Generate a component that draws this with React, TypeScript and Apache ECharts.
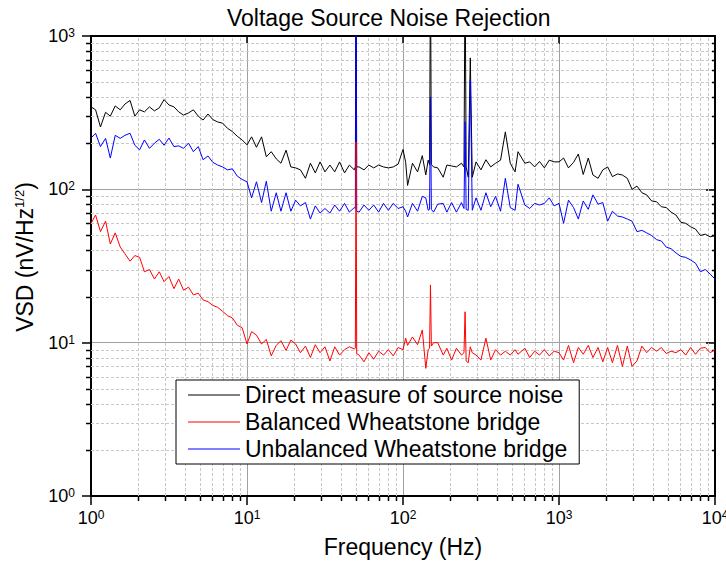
import React, { useEffect, useRef } from "react";
import * as echarts from "echarts";

const FONT = "'Liberation Sans', Arial, sans-serif";

// Frequencies (Hz)
const freq = [
  1, 1.07, 1.15, 1.24, 1.33, 1.43, 1.54, 1.65, 1.78, 1.91, 2.05, 2.2, 2.37, 2.55, 2.74, 2.94,
  3.16, 3.4, 3.65, 3.92, 4.22, 4.53, 4.87, 5.23, 5.62, 6.04, 6.49, 6.98, 7.5, 8.06, 8.66, 9.31,
  10, 10.7, 11.5, 12.4, 13.3, 14.3, 15.4, 16.5, 17.8, 19.1, 20.5, 22, 23.7, 25.5, 27.4, 29.4,
  31.6, 34, 36.5, 39.2, 42.2, 45.3, 48.7, 49.5, 50, 50.5, 52.3, 56.2, 60.4, 64.9, 69.8, 75,
  80.6, 86.6, 93.1,
  100, 104, 107, 115, 124, 133, 140, 145, 148, 150, 152, 157, 167, 181, 191, 205, 220, 237,
  246, 250, 254, 262, 270, 278, 294, 316, 340, 365, 392, 422, 453, 487, 523, 546, 604, 649,
  698, 750, 806, 866, 931,
  1000, 1070, 1150, 1240, 1330, 1430, 1540, 1650, 1780, 1910, 2050, 2200, 2370, 2550, 2740,
  2940, 3160, 3400, 3650, 3920, 4220, 4530, 4870, 5230, 5620, 6040, 6490, 6980, 7500, 8060,
  8660, 9310, 10000,
];

// Direct measure of source noise (nV/Hz^1/2)
const directNoise = [
  345, 330, 255, 318, 300, 350, 330, 360, 380, 300, 330, 320, 345, 325, 340, 385,
  355, 345, 320, 305, 315, 330, 300, 283, 310, 285, 275, 270, 250, 238, 222, 210,
  195, 220, 188, 220, 163, 176, 158, 148, 180, 140, 138, 134, 118, 148, 128, 151,
  130, 144, 130, 151, 128, 144, 134, 140, 3000, 140, 140, 134, 144, 138, 144, 140,
  138, 140, 146,
  182, 150, 106, 148, 130, 166, 124, 155, 145, 3000, 145, 140, 138, 120, 144, 142, 140, 148,
  140, 3000, 140, 120, 720, 120, 151, 134, 156, 140, 148, 155, 237, 148, 130, 176, 148, 151,
  140, 152, 138, 155, 151,
  151, 160, 138, 150, 170, 125, 160, 124, 118, 134, 140, 121, 126, 124, 118,
  100, 105, 95, 92, 84, 83, 77, 76, 71, 68, 61, 60, 57, 55, 50,
  51, 49, 50,
];

// Balanced Wheatstone bridge
const balancedBridge = [
  60, 68, 53, 62, 44, 52, 42, 38, 34, 37, 36, 29, 30, 26, 29, 25,
  27, 22.5, 26, 22, 23, 20.5, 21, 19, 18.5, 17.5, 17, 16, 15, 14.5, 13, 12.5,
  9.8, 11.8, 11.2, 9.8, 10.5, 8.2, 9.6, 10.3, 8.9, 10.4, 9.8, 8.6, 9.5, 8.0, 9.7, 8.6,
  9.4, 7.6, 9.4, 8.3, 9.0, 9.4, 9.1, 9.2, 204, 8.5, 8.3, 7.5, 8.6, 7.8, 8.8, 8.3,
  9.0, 8.2, 9.3,
  9.0, 10.7, 9.6, 10.9, 9.7, 12.1, 6.8, 9.0, 9.2, 23.8, 9.5, 10, 10, 8.3, 9.2, 7.7, 9.2, 8.3,
  8.6, 15.9, 7.6, 7.4, 9.4, 8.6, 8.3, 7.7, 10.7, 7.7, 9.0, 8.3, 8.8, 8.3, 9.0, 8.4, 9.2, 8.0,
  8.8, 8.3, 9.0, 8.2, 8.8,
  8.6, 7.7, 9.6, 7.4, 9.3, 8.4, 9.6, 8.0, 9.3, 7.5, 9.3, 7.4, 9.6, 7.0, 9.5,
  7.0, 7.6, 9.5, 8.6, 9.3, 8.8, 9.3, 8.5, 8.8, 8.6, 9.0, 8.3, 9.3, 8.4, 9.2,
  9.3, 8.6, 9.0,
];

// Unbalanced Wheatstone bridge
const unbalancedBridge = [
  216, 232, 190, 215, 160, 225, 215, 225, 232, 194, 181, 210, 185, 200, 212, 194,
  216, 190, 192, 185, 200, 176, 190, 156, 165, 150, 144, 140, 134, 136, 122, 116,
  112, 88, 112, 82, 113, 72, 95, 72, 95, 72, 85, 78, 82, 64, 78, 70,
  75, 70, 79, 72, 81, 71, 76, 75, 3000, 72, 71, 79, 73, 79, 71, 81,
  73, 81, 75,
  77, 72, 66, 81, 72, 90, 88, 73, 74, 400, 74, 71, 80, 81, 71, 82, 71, 82,
  75, 276, 74, 73, 518, 73, 88, 73, 95, 77, 90, 72, 118, 76, 73, 108, 79, 75,
  81, 79, 81, 88, 78,
  81, 60, 85, 76, 64, 84, 74, 92, 80, 82, 62, 72, 67, 66, 64,
  62, 53, 54, 52, 50, 47, 46, 42, 41, 38.5, 36.5, 36, 34.6, 33, 29,
  30, 28, 26,
];

const seriesNames = [
  "Direct measure of source noise",
  "Balanced Wheatstone bridge",
  "Unbalanced Wheatstone bridge",
];

const xTicks = [1, 10, 100, 1000, 10000];
const xTickExp = ["0", "1", "2", "3", "4"];
const yTicks = [1, 10, 100, 1000];
const yTickExp = ["0", "1", "2", "3"];

const xMinorTicks = [
  2, 3, 4, 5, 6, 7, 8, 9,
  20, 30, 40, 50, 60, 70, 80, 90,
  200, 300, 400, 500, 600, 700, 800, 900,
  2000, 3000, 4000, 5000, 6000, 7000, 8000, 9000,
];
const yMinorTicks = [
  2, 3, 4, 5, 6, 7, 8, 9,
  20, 30, 40, 50, 60, 70, 80, 90,
  200, 300, 400, 500, 600, 700, 800, 900,
];

const X_MIN = 1, X_MAX = 10000, Y_MIN = 1, Y_MAX = 1000;

function expLabel(v: number, ticks: number[], exps: string[]) {
  const i = ticks.findIndex((t) => Math.abs(t - v) / t < 1e-6);
  if (i < 0) return "";
  return `{a|10}{b|${exps[i]}}`;
}

const TICK_RICH = {
  a: { fontSize: 18, lineHeight: 18, verticalAlign: "bottom", fontFamily: FONT, color: "#000" },
  b: { fontSize: 12, lineHeight: 12, verticalAlign: "top", padding: [0, 0, 10, 0], fontFamily: FONT, color: "#000" },
};

export default function App() {
  const ref = useRef<HTMLDivElement>(null);
  useEffect(() => {
    if (!ref.current) return;
    const chart = echarts.init(ref.current, null, { renderer: "svg" });
    const mk = (vals: number[]) => freq.map((f, i) => [f, vals[i]]);
    const option: any = {
      animation: false,
      backgroundColor: "#fff",
      title: {
        text: "Voltage Source Noise Rejection",
        left: 227,
        top: 6,
        padding: 0,
        textStyle: { fontSize: 23, fontWeight: "normal", fontFamily: FONT, color: "#000" },
      },
      grid: { left: 91, right: 11, top: 36, bottom: 65, containLabel: false, outerBoundsMode: "none" },
      legend: {
        data: seriesNames,
        orient: "vertical",
        left: 176,
        top: 380,
        icon: "rect",
        itemWidth: 52,
        itemHeight: 1,
        itemGap: 0,
        padding: [1.5, 12, 1.5, 12],
        borderColor: "#000",
        borderWidth: 1,
        backgroundColor: "#fff",
        textStyle: { fontSize: 23, lineHeight: 27, fontFamily: FONT, color: "#000" },
        selectedMode: false,
      },
      xAxis: [
        {
          type: "log",
          logBase: 10,
          min: X_MIN,
          max: X_MAX,
          position: "bottom",
          name: "Frequency (Hz)",
          nameLocation: "middle",
          nameGap: 38,
          nameTextStyle: { fontSize: 23, fontFamily: FONT, color: "#000" },
          axisLine: { show: true, onZero: false, lineStyle: { color: "#000", width: 2 } },
          axisTick: { show: true, inside: false, length: 9, lineStyle: { color: "#000", width: 1.5 } },
          axisLabel: {
            margin: 13,
            hideOverlap: false,
            formatter: (v: number) => expLabel(v, xTicks, xTickExp),
            rich: TICK_RICH,
          },
          splitLine: { show: true, lineStyle: { color: "#a0a0a0", width: 1 } },
        },
        {
          type: "log",
          logBase: 10,
          min: X_MIN,
          max: X_MAX,
          position: "top",
          axisLine: { show: true, onZero: false, lineStyle: { color: "#000", width: 2 } },
          axisTick: { show: true, inside: true, length: 8, lineStyle: { color: "#000", width: 1.5 } },
          axisLabel: { show: false },
          splitLine: { show: false },
        },
      ],
      yAxis: [
        {
          type: "log",
          logBase: 10,
          min: Y_MIN,
          max: Y_MAX,
          position: "left",
          name: "{a|VSD (nV/Hz}{b|1/2}{a|)}",
          nameLocation: "middle",
          nameRotate: 90,
          nameGap: 54,
          nameTextStyle: {
            padding: [0, 0, 0, 18],
            rich: {
              a: { fontSize: 23, lineHeight: 23, verticalAlign: "bottom", fontFamily: FONT, color: "#000" },
              b: { fontSize: 13, lineHeight: 13, verticalAlign: "top", padding: [0, 0, 11, 0], fontFamily: FONT, color: "#000" },
            },
          },
          axisLine: { show: true, onZero: false, lineStyle: { color: "#000", width: 2 } },
          axisTick: { show: true, inside: false, length: 9, lineStyle: { color: "#000", width: 1.5 } },
          axisLabel: {
            margin: 16,
            formatter: (v: number) => expLabel(v, yTicks, yTickExp),
            rich: TICK_RICH,
          },
          splitLine: { show: true, lineStyle: { color: "#a0a0a0", width: 1 } },
        },
        {
          type: "log",
          logBase: 10,
          min: Y_MIN,
          max: Y_MAX,
          position: "right",
          axisLine: { show: true, onZero: false, lineStyle: { color: "#000", width: 2 } },
          axisTick: { show: true, inside: true, length: 9, lineStyle: { color: "#000", width: 1.5 } },
          axisLabel: { show: false },
          splitLine: { show: false },
        },
      ],
      series: [
        {
          name: "minorX",
          type: "custom",
          silent: true,
          z: 1,
          data: xMinorTicks.map((v) => [v, Y_MIN]),
          renderItem: (params: any, api: any) => {
            const f = api.value(0);
            const b = api.coord([f, Y_MIN]);
            const t = api.coord([f, Y_MAX]);
            const x = Math.round(b[0]) + 0.5;
            return {
              type: "group",
              children: [
                { type: "line", shape: { x1: x, y1: b[1], x2: x, y2: t[1] }, style: { stroke: "#c8c8c8", lineWidth: 1, lineDash: [3, 2] } },
                { type: "line", shape: { x1: x, y1: b[1], x2: x, y2: b[1] + 5 }, style: { stroke: "#000", lineWidth: 1.5 } },
              ],
            };
          },
        },
        {
          name: "minorY",
          type: "custom",
          silent: true,
          z: 1,
          data: yMinorTicks.map((v) => [X_MIN, v]),
          renderItem: (params: any, api: any) => {
            const v = api.value(1);
            const l = api.coord([X_MIN, v]);
            const r = api.coord([X_MAX, v]);
            const y = Math.round(l[1]) + 0.5;
            return {
              type: "group",
              children: [
                { type: "line", shape: { x1: l[0], y1: y, x2: r[0], y2: y }, style: { stroke: "#c8c8c8", lineWidth: 1, lineDash: [3, 2] } },
                { type: "line", shape: { x1: l[0] - 5, y1: y, x2: l[0], y2: y }, style: { stroke: "#000", lineWidth: 1.5 } },
                { type: "line", shape: { x1: r[0] - 3, y1: y, x2: r[0], y2: y }, style: { stroke: "#000", lineWidth: 1.5 } },
              ],
            };
          },
        },
        {
          name: seriesNames[0],
          type: "line",
          color: "#000000",
          symbol: "none",
          showSymbol: false,
          clip: true,
          z: 2,
          lineStyle: { width: 1, color: "#000000" },
          data: mk(directNoise),
        },
        {
          name: seriesNames[2],
          type: "line",
          color: "#0000ff",
          symbol: "none",
          showSymbol: false,
          clip: true,
          z: 3,
          lineStyle: { width: 1, color: "#0000ff" },
          data: mk(unbalancedBridge),
        },
        {
          name: seriesNames[1],
          type: "line",
          color: "#ff0000",
          symbol: "none",
          showSymbol: false,
          clip: true,
          z: 4,
          lineStyle: { width: 1, color: "#ff0000" },
          data: mk(balancedBridge),
        },
      ],
    };
    chart.setOption(option);
    return () => chart.dispose();
  }, []);
  return (
    <div
      ref={ref}
      style={{ position: "absolute", left: 0, top: 0, width: 726, height: 561, background: "#fff" }}
    />
  );
}
